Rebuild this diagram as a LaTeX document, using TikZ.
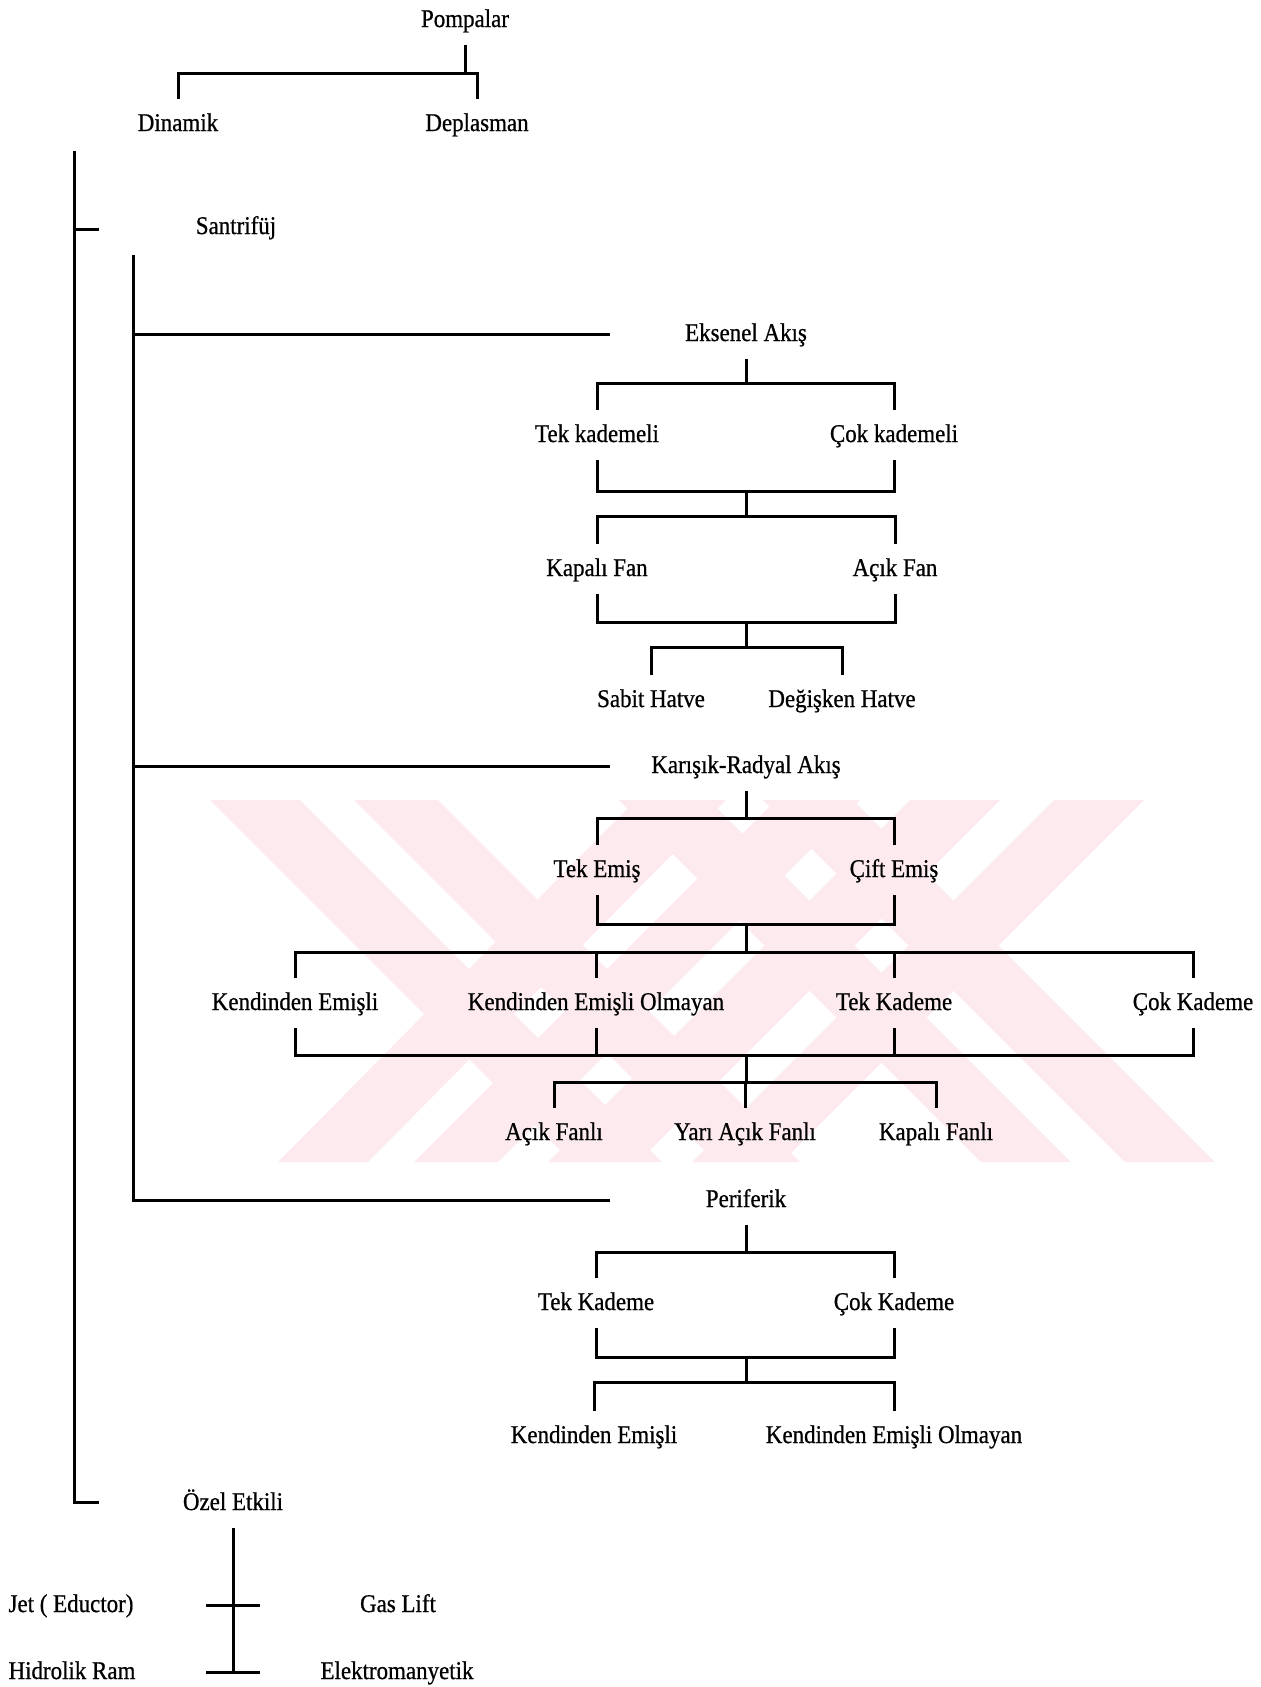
\documentclass[tikz,border=0pt]{standalone}
\usepackage{fontspec}
\setmainfont{Liberation Serif}[FakeStretch=0.9,FakeBold=0.7]
\usetikzlibrary{calc}
\definecolor{wm}{RGB}{253,234,238}
\begin{document}
\begin{tikzpicture}[x=1pt,y=-1pt,
  lbl/.style={inner xsep=0pt,inner ysep=15pt,text height=17pt,text depth=3pt,anchor=base,font=\fontsize{25.5}{28}\selectfont},
  conn/.style={line width=3pt,line join=miter}]
\fill[white] (0,0) rectangle (1261,1687);
\useasboundingbox (0,0) rectangle (1261,1687);
% watermark
\fill[wm] (210,800)--(300,800)--(662,1162)--(572,1162)--cycle;
\fill[wm] (354,800)--(438,800)--(800,1162)--(716,1162)--cycle;
\fill[wm] (619,800)--(709,800)--(1071,1162)--(981,1162)--cycle;
\fill[wm] (763,800)--(853,800)--(1215,1162)--(1125,1162)--cycle;
\fill[wm] (636,800)--(726,800)--(368,1162)--(278,1162)--cycle;
\fill[wm] (776,800)--(860,800)--(498,1162)--(414,1162)--cycle;
\fill[wm] (910,800)--(1000,800)--(638,1162)--(548,1162)--cycle;
\fill[wm] (1054,800)--(1144,800)--(782,1162)--(692,1162)--cycle;
% labels
\node[lbl] (pomp) at (465,27) {Pompalar};
\node[lbl] (din) at (178,131) {Dinamik};
\node[lbl] (dep) at (477,131) {Deplasman};
\node[lbl] (san) at (236,234) {Santrifüj};
\node[lbl] (eks) at (746,341) {Eksenel Akış};
\node[lbl] (tk1) at (597,442) {Tek kademeli};
\node[lbl] (ck1) at (894,442) {Çok kademeli};
\node[lbl] (kf) at (597,576) {Kapalı Fan};
\node[lbl] (af) at (895,576) {Açık Fan};
\node[lbl] (sh) at (651,707) {Sabit Hatve};
\node[lbl] (dh) at (842,707) {Değişken Hatve};
\node[lbl] (kar) at (746,773) {Karışık-Radyal Akış};
\node[lbl] (te) at (597,877) {Tek Emiş};
\node[lbl] (ce) at (894,877) {Çift Emiş};
\node[lbl] (ke1) at (295,1010) {Kendinden Emişli};
\node[lbl] (keo1) at (596,1010) {Kendinden Emişli Olmayan};
\node[lbl] (tkd1) at (894,1010) {Tek Kademe};
\node[lbl] (ckd1) at (1193,1010) {Çok Kademe};
\node[lbl] (acf) at (554,1140) {Açık Fanlı};
\node[lbl] (yaf) at (745,1140) {Yarı Açık Fanlı};
\node[lbl] (kpf) at (936,1140) {Kapalı Fanlı};
\node[lbl] (per) at (746,1207) {Periferik};
\node[lbl] (tkd2) at (596,1310) {Tek Kademe};
\node[lbl] (ckd2) at (894,1310) {Çok Kademe};
\node[lbl] (ke2) at (594,1443) {Kendinden Emişli};
\node[lbl] (keo2) at (894,1443) {Kendinden Emişli Olmayan};
\node[lbl] (ozel) at (233,1510) {Özel Etkili};
\node[lbl] (jet) at (71,1612) {Jet ( Eductor)};
\node[lbl] (gas) at (398,1612) {Gas Lift};
\node[lbl] (hid) at (72,1679) {Hidrolik Ram};
\node[lbl] (ele) at (397,1679) {Elektromanyetik};
% top bracket
\coordinate (j0) at (pomp.south |- 0,73);
\draw[conn] (pomp.south) -- (j0);
\draw[conn] (din.north) |- (j0) -| (dep.north);
% left rails
\coordinate (m1) at (74,151);
\coordinate (m2) at (74,1502);
\coordinate (t1) at (74,229);
\draw[conn] (m1) -- (m2) -- ++(25,0);
\draw[conn] (t1) -- ++(25,0);
\coordinate (s1) at (133,255);
\coordinate (rail) at (610,0);
\draw[conn] (s1) -- (s1 |- per) -- (rail |- per);
\draw[conn] (s1 |- eks) -- (rail |- eks);
\draw[conn] (s1 |- kar) -- (rail |- kar);
% Eksenel subtree
\coordinate (e1) at (eks.south |- 0,383);
\coordinate (e2) at (eks.south |- 0,491);
\coordinate (e3) at (eks.south |- 0,516);
\coordinate (e4) at (eks.south |- 0,622);
\coordinate (e5) at (eks.south |- 0,647);
\draw[conn] (eks.south) -- (e1);
\draw[conn] (tk1.north) |- (e1) -| (ck1.north);
\draw[conn] (tk1.south) |- (e2) -| (ck1.south);
\draw[conn] (e2) -- (e3);
\draw[conn] (kf.north) |- (e3) -| (af.north);
\draw[conn] (kf.south) |- (e4) -| (af.south);
\draw[conn] (e4) -- (e5);
\draw[conn] (sh.north) |- (e5) -| (dh.north);
% Karisik subtree
\coordinate (k1) at (kar.south |- 0,818);
\coordinate (k2) at (kar.south |- 0,924);
\coordinate (k3) at (kar.south |- 0,952);
\coordinate (k4) at (kar.south |- 0,1055);
\coordinate (k5) at (kar.south |- 0,1082);
\draw[conn] (kar.south) -- (k1);
\draw[conn] (te.north) |- (k1) -| (ce.north);
\draw[conn] (te.south) |- (k2) -| (ce.south);
\draw[conn] (k2) -- (k3);
\draw[conn] (ke1.north) |- (k3) -| (ckd1.north);
\draw[conn] (keo1.north) -- (keo1.north |- k3);
\draw[conn] (tkd1.north) -- (tkd1.north |- k3);
\draw[conn] (ke1.south) |- (k4) -| (ckd1.south);
\draw[conn] (keo1.south) -- (keo1.south |- k4);
\draw[conn] (tkd1.south) -- (tkd1.south |- k4);
\draw[conn] (k4) -- (k5);
\draw[conn] (acf.north) |- (k5) -| (kpf.north);
\draw[conn] (yaf.north) -- (yaf.north |- k5);
% Periferik subtree
\coordinate (p1) at (per.south |- 0,1252);
\coordinate (p2) at (per.south |- 0,1357);
\coordinate (p3) at (per.south |- 0,1382);
\draw[conn] (per.south) -- (p1);
\draw[conn] (tkd2.north) |- (p1) -| (ckd2.north);
\draw[conn] (tkd2.south) |- (p2) -| (ckd2.south);
\draw[conn] (p2) -- (p3);
\draw[conn] (ke2.north) |- (p3) -| (keo2.north);
% Ozel Etkili
\draw[conn] (ozel.south) -- (ozel.south |- hid);
\draw[conn] ($(ozel.south |- jet)+(-27,0)$) -- ++(54,0);
\draw[conn] ($(ozel.south |- hid)+(-27,0)$) -- ++(54,0);
\end{tikzpicture}
\end{document}
